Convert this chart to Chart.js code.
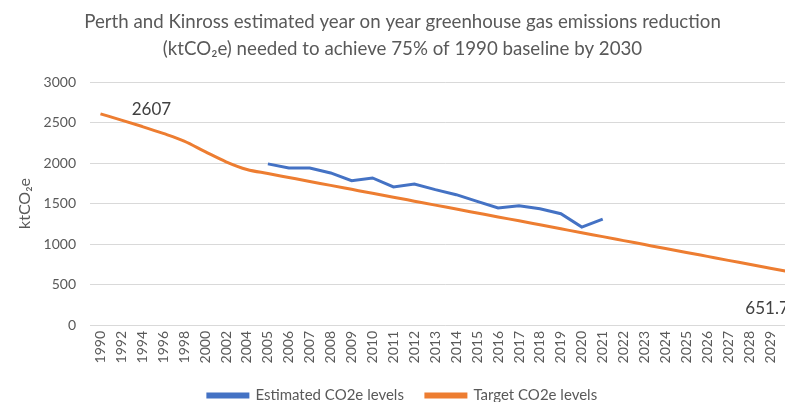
<!DOCTYPE html>
<html>
<head>
<meta charset="utf-8">
<title>Perth and Kinross emissions reduction</title>
<script src="https://cdn.jsdelivr.net/npm/chart.js@4/dist/chart.umd.min.js"></script>
<style>
  html, body { margin: 0; padding: 0; background: #fff; overflow: hidden; }
  #wrap { position: absolute; left: 0; top: 0; }
</style>
</head>
<body>
<div id="wrap"><canvas id="emissionsChart" width="814" height="413"></canvas></div>
<script>
// Chart data

var years = ['1990', '1992', '1994', '1996', '1998', '2000', '2002', '2004',
  '2005', '2006', '2007', '2008', '2009', '2010', '2011', '2012', '2013',
  '2014', '2015', '2016', '2017', '2018', '2019', '2020', '2021', '2022',
  '2023', '2024', '2025', '2026', '2027', '2028', '2029', '2030'];

var estimatedLevels = [null, null, null, null, null, null, null, null,
  1989, 1939, 1939, 1877, 1782, 1815, 1704, 1741, 1671,
  1609, 1526, 1444, 1473, 1436, 1374, 1209, 1308, null,
  null, null, null, null, null, null, null, null];

var targetLevels = [2607, 2530, 2450, 2365, 2270, 2140, 2015, 1920,
  1870, 1821, 1772, 1724, 1675, 1626, 1578, 1529, 1480,
  1432, 1383, 1334, 1286, 1237, 1188, 1139, 1091, 1042,
  993, 944, 896, 847, 798, 750, 701, 651.7];

var yTicks = [0, 500, 1000, 1500, 2000, 2500, 3000];

var grey = '#595959';
var fontFamily = 'Lato, "Open Sans", sans-serif';

/**
 * Plugin drawing the two data labels on the target series
 */
var targetLabels = {
  id: 'targetLabels',
  afterDatasetsDraw: function (chart) {
    var meta = chart.getDatasetMeta(1);
    var first = meta.data[0];
    var last = meta.data[meta.data.length - 1];
    var ctx = chart.ctx;
    ctx.save();
    ctx.font = '17px ' + fontFamily;
    ctx.fillStyle = '#404040';
    ctx.textAlign = 'center';
    ctx.textBaseline = 'middle';
    ctx.fillText(String(targetLevels[0]), first.x + 51, first.y - 4);
    ctx.fillText(String(targetLevels[targetLevels.length - 1]), last.x - 24, last.y + 36);
    ctx.restore();
  }
};

var ctx = document.getElementById('emissionsChart').getContext('2d');
var chart = new Chart(ctx, {
  type: 'line',
  data: {
    labels: years,
    datasets: [
      {
        label: 'Estimated CO2e levels',
        data: estimatedLevels,
        borderColor: '#4472C4',
        backgroundColor: '#4472C4',
        borderWidth: 3,
        pointRadius: 0,
        tension: 0,
        spanGaps: false
      },
      {
        label: 'Target CO2e levels',
        data: targetLevels,
        borderColor: '#ED7D31',
        backgroundColor: '#ED7D31',
        borderWidth: 3,
        pointRadius: 0,
        cubicInterpolationMode: 'monotone'
      }
    ]
  },
  options: {
    responsive: false,
    animation: false,
    layout: { padding: { left: 0, right: 9, top: 0, bottom: 0 } },
    plugins: {
      title: {
        display: true,
        text: ['Perth and Kinross estimated year on year greenhouse gas emissions reduction',
          '(ktCO\u2082e) needed to achieve 75% of 1990 baseline by 2030'],
        color: grey,
        font: { family: fontFamily, size: 18.7, weight: 'normal', lineHeight: 1.444 },
        padding: { top: 8, bottom: 20 }
      },
      legend: {
        position: 'bottom',
        labels: {
          color: grey,
          font: { family: fontFamily, size: 15 },
          boxWidth: 40,
          boxHeight: 3,
          padding: 22
        }
      },
      tooltip: { enabled: false }
    },
    scales: {
      x: {
        offset: true,
        grid: { display: false, drawTicks: false },
        border: { display: false },
        ticks: {
          color: grey,
          font: { family: fontFamily, size: 14 },
          autoSkip: false,
          minRotation: 90,
          maxRotation: 90,
          padding: 6
        },
        afterFit: function (scale) {
          scale.height = 41;
        }
      },
      y: {
        min: 0,
        max: 3000,
        grid: { color: '#d9d9d9', drawTicks: false },
        border: { display: false },
        afterBuildTicks: function (scale) {
          scale.ticks = yTicks.map(function (v) { return { value: v }; });
        },
        ticks: {
          color: grey,
          font: { family: fontFamily, size: 14 },
          padding: 14,
          callback: function (value) {
            return String(value);
          }
        },
        title: {
          display: true,
          text: 'ktCO\u2082e',
          color: grey,
          font: { family: fontFamily, size: 16 },
          padding: { top: 15, bottom: 0 }
        },
        afterFit: function (scale) {
          scale.width = 90;
        }
      }
    }
  },
  plugins: [targetLabels]
});
</script>
</body>
</html>
